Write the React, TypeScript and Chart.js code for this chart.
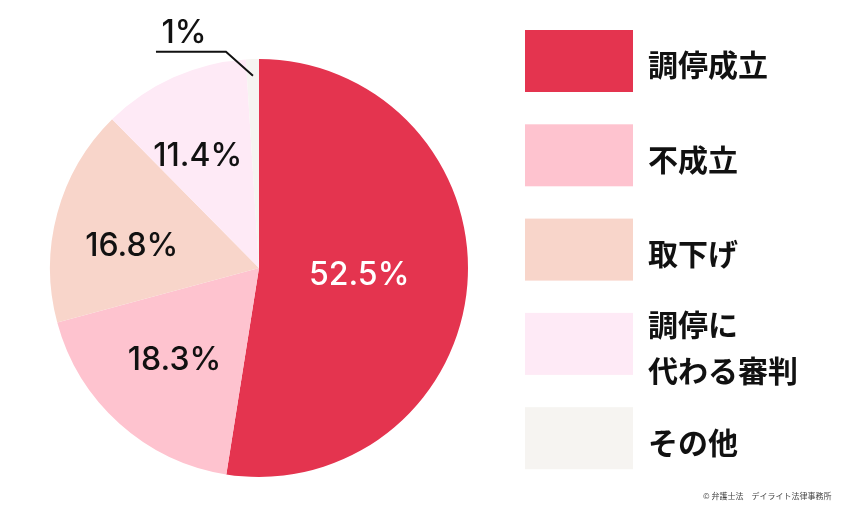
import React, { useEffect, useRef } from "react";
import { Chart, registerables } from "chart.js";

Chart.register(...registerables);

const categories = ["調停成立", "不成立", "取下げ", "調停に\n代わる審判", "その他"];
const values = [52.5, 18.3, 16.8, 11.4, 1];
const valueLabels = ["52.5%", "18.3%", "16.8%", "11.4%", "1%"];
const colors = ["#E4344F", "#FEC3CF", "#F8D5CA", "#FEEAF6", "#F6F4F1"];
const labelColors = ["#ffffff", "#111111", "#111111", "#111111", "#111111"];
const labelRadius = [0.48, 0.59, 0.62, 0.62];
const labelAngleFrac = [0.49, 0.52, 0.43, 0.4];
const credit = "© 弁護士法　デイライト法律事務所";

const NUM_FONT = "500 32px Inter, Lato, 'Noto Sans', sans-serif";
const CJK_FONT = "bold 30px 'Noto Sans CJK JP', sans-serif";

const overlayPlugin = {
  id: "overlay",
  afterDraw(chart: any) {
    const ctx = chart.ctx as CanvasRenderingContext2D;
    const meta = chart.getDatasetMeta(0);
    ctx.save();
    meta.data.forEach((arc: any, i: number) => {
      const p = arc.getProps(["x", "y", "startAngle", "endAngle", "outerRadius"], true);
      if (i < 4) {
        const a = p.startAngle + (p.endAngle - p.startAngle) * labelAngleFrac[i];
        const r = p.outerRadius * labelRadius[i];
        const x = p.x + Math.cos(a) * r;
        const y = p.y + Math.sin(a) * r;
        ctx.font = NUM_FONT;
        ctx.fillStyle = labelColors[i];
        ctx.textAlign = "center";
        ctx.textBaseline = "alphabetic";
        ctx.fillText(valueLabels[i], x, y + 12);
      } else {
        const a = (p.startAngle + p.endAngle) / 2;
        const r = p.outerRadius * 0.92;
        const ax = p.x + Math.cos(a) * r;
        const ay = p.y + Math.sin(a) * r;
        ctx.strokeStyle = "#111111";
        ctx.lineWidth = 2;
        ctx.beginPath();
        ctx.moveTo(ax, ay);
        ctx.lineTo(ax - 27, ay - 24);
        ctx.lineTo(ax - 97, ay - 24);
        ctx.stroke();
        ctx.font = NUM_FONT;
        ctx.fillStyle = labelColors[i];
        ctx.textAlign = "center";
        ctx.textBaseline = "alphabetic";
        ctx.fillText(valueLabels[i], ax - 69, ay - 45 + 12);
      }
    });

    // legend
    const boxX = 525;
    const boxW = 108;
    const boxH = 62;
    const top0 = 30;
    const step = 94.3;
    categories.forEach((c, i) => {
      const y0 = top0 + i * step;
      ctx.fillStyle = colors[i];
      ctx.fillRect(boxX, y0, boxW, boxH);
      ctx.font = CJK_FONT;
      ctx.fillStyle = "#111111";
      ctx.textAlign = "left";
      ctx.textBaseline = "middle";
      const lines = c.split("\n");
      const cy = y0 + boxH / 2 + 4;
      const lh = 46;
      lines.forEach((ln, k) => {
        const ly = cy + (k - (lines.length - 1) / 2) * lh;
        ctx.fillText(ln, 648, ly);
      });
    });

    ctx.font = "normal 8px 'Noto Sans CJK JP', sans-serif";
    ctx.fillStyle = "#444444";
    ctx.textAlign = "left";
    ctx.textBaseline = "middle";
    ctx.fillText(credit, 703, 496);
    ctx.restore();
  },
};

export default function App() {
  const ref = useRef<HTMLCanvasElement | null>(null);
  useEffect(() => {
    if (!ref.current) return;
    const chart = new Chart(ref.current, {
      type: "pie",
      data: {
        labels: categories,
        datasets: [
          {
            data: values,
            backgroundColor: colors,
            borderWidth: 0,
          },
        ],
      },
      options: {
        responsive: false,
        animation: false,
        devicePixelRatio: 1,
        layout: { padding: { left: 50, right: 382, top: 59, bottom: 31 } },
        plugins: { legend: { display: false }, tooltip: { enabled: false } },
      },
      plugins: [overlayPlugin],
    });
    return () => chart.destroy();
  }, []);
  return (
    <div style={{ position: "absolute", left: 0, top: 0, width: 850, height: 508, background: "#fff" }}>
      <canvas ref={ref} width={850} height={508} />
    </div>
  );
}
